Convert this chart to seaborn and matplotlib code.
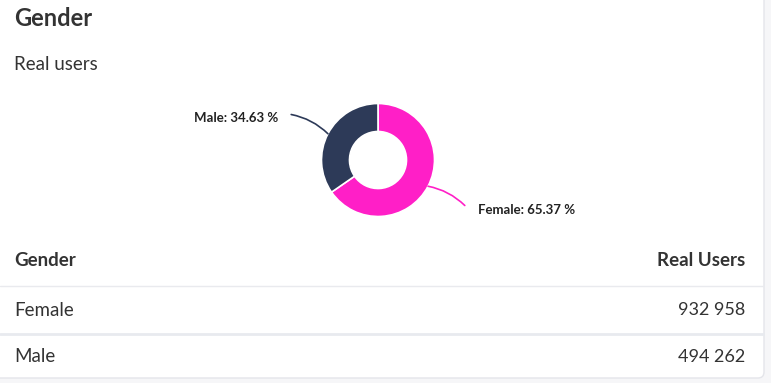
import numpy as np
import matplotlib.pyplot as plt
import seaborn as sns
from matplotlib.patches import FancyBboxPatch

sns.set_theme(style="white")
plt.rcParams['font.family'] = ['Lato', 'DejaVu Sans']

# data
genders = ["Female", "Male"]
real_users = [932958, 494262]
shares = [65.37, 34.63]
colors = ["#ff1fc7", "#2d3a58"]

W, H = 771, 383
fig = plt.figure(figsize=(W / 100, H / 100), dpi=100)
fig.patch.set_facecolor("#f6f6f8")

# background / text layer in pixel coordinates
bg = fig.add_axes([0, 0, 1, 1])
bg.set_xlim(0, W)
bg.set_ylim(H, 0)
bg.axis("off")
card = FancyBboxPatch((-20, -20), 784, 398, boxstyle="round,pad=0,rounding_size=6",
                      facecolor="white", edgecolor="#e4e5ea", lw=1)
bg.add_patch(card)

txt = "#333333"
bg.text(14, 18, "Gender", fontsize=17, fontweight="bold", color=txt, va="center")
bg.text(14, 65, "Real users", fontsize=13.5, color=txt, va="center")

# table
bg.text(14, 261, "Gender", fontsize=13.5, fontweight="bold", color=txt, va="center")
bg.text(745, 261, "Real Users", fontsize=13.5, fontweight="bold", color=txt, va="center", ha="right")
bg.plot([0, 763], [286, 286], color="#e9eaee", lw=1)
bg.plot([0, 763], [333.5, 333.5], color="#e8eaef", lw=2)
row_y = [310, 357]
for g, v, y in zip(genders, real_users, row_y):
    bg.text(14, y, g, fontsize=13.5, color=txt, va="center")
    bg.text(745, y, f"{v:,}".replace(",", "\u2005"), fontsize=13, color=txt,
            va="center", ha="right")

# donut
cx, cy, half = 378, 160, 70
ax = fig.add_axes([(cx - half) / W, (H - cy - half) / H, 2 * half / W, 2 * half / H])
r_out, r_in = 56.5, 28.5
wedges, _ = ax.pie(real_users, colors=colors, startangle=90, counterclock=False,
                   radius=r_out, wedgeprops=dict(width=r_out - r_in, edgecolor="white", lw=1.2),
                   frame=True)
ax.set_xlim(-half, half)
ax.set_ylim(-half, half)
ax.axis("off")

for w, g, s, col in zip(wedges, genders, shares, colors):
    mid = np.deg2rad((w.theta1 + w.theta2) / 2)
    px, py = r_out * np.cos(mid), r_out * np.sin(mid)
    lx, ly = 98 * np.cos(mid), 98 * np.sin(mid)
    side = 1 if np.cos(mid) > 0 else -1
    ax.annotate("", xy=(px, py), xytext=(lx, ly), annotation_clip=False,
                arrowprops=dict(arrowstyle="-", color=col, lw=1.2,
                                connectionstyle=f"arc3,rad={0.15 * side}",
                                shrinkA=0, shrinkB=0))
    ax.text(lx + 13 * side, ly - 4, f"{g}: {s:.2f} %", fontsize=9.5, fontweight="bold",
            color="#222222", va="center", ha="left" if side > 0 else "right")

fig.savefig("out.png", dpi=100)
